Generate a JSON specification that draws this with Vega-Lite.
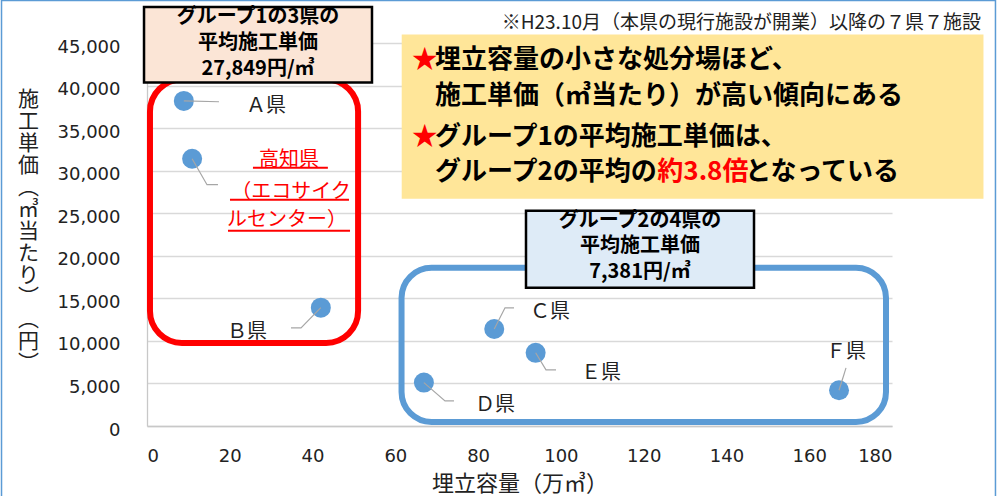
{
  "$schema": "https://vega.github.io/schema/vega-lite/v6.json",
  "width": 745,
  "height": 383,
  "autosize": {"type": "none"},
  "padding": {"left": 147, "top": 43, "right": 114, "bottom": 70},
  "background": "white",
  "config": {"view": {"stroke": null}, "font": "Noto Sans CJK JP"},
  "datasets": {
    "frame": [{"x": -35.15, "x2": 205.0, "y": 50000, "y2": -8706}],
    "points": [
      {"name": "A県", "x": 8.9, "y": 38200},
      {"name": "高知県", "x": 10.9, "y": 31400},
      {"name": "B県", "x": 42.0, "y": 13900},
      {"name": "C県", "x": 83.9, "y": 11400},
      {"name": "D県", "x": 66.9, "y": 5100},
      {"name": "E県", "x": 93.9, "y": 8600},
      {"name": "F県", "x": 167.2, "y": 4200}
    ],
    "leaders": [
      {"id": "A", "ord": 0, "x": 8.9, "y": 38200},
      {"id": "A", "ord": 1, "x": 17.4, "y": 38100},
      {"id": "K", "ord": 0, "x": 10.9, "y": 31400},
      {"id": "K", "ord": 1, "x": 14.5, "y": 28354},
      {"id": "K", "ord": 2, "x": 17.15, "y": 28354},
      {"id": "B", "ord": 0, "x": 42.0, "y": 13900},
      {"id": "B", "ord": 1, "x": 37.21, "y": 11530},
      {"id": "B", "ord": 2, "x": 34.79, "y": 11530},
      {"id": "C", "ord": 0, "x": 83.9, "y": 11400},
      {"id": "C", "ord": 1, "x": 86.5, "y": 13883},
      {"id": "C", "ord": 2, "x": 88.67, "y": 13883},
      {"id": "E", "ord": 0, "x": 93.9, "y": 8600},
      {"id": "E", "ord": 1, "x": 96.4, "y": 6588},
      {"id": "E", "ord": 2, "x": 98.82, "y": 6588},
      {"id": "D", "ord": 0, "x": 66.9, "y": 5100},
      {"id": "D", "ord": 1, "x": 72.0, "y": 2941},
      {"id": "D", "ord": 2, "x": 74.17, "y": 2941},
      {"id": "F", "ord": 0, "x": 167.2, "y": 4200},
      {"id": "F", "ord": 1, "x": 168.89, "y": 6824}
    ],
    "labels": [
      {"t": "Ａ県", "x": 28.75, "y": 37650},
      {"t": "Ｂ県", "x": 24.16, "y": 11095},
      {"t": "Ｃ県", "x": 97.37, "y": 13447},
      {"t": "Ｄ県", "x": 84.08, "y": 2471},
      {"t": "Ｅ県", "x": 109.7, "y": 6235},
      {"t": "Ｆ県", "x": 168.9, "y": 8741}
    ],
    "kochi": [
      {"t": "高知県", "x": 34.31, "y": 31295},
      {"t": "（エコサイク", "x": 34.79, "y": 27530},
      {"t": "ルセンター）", "x": 33.83, "y": 24236}
    ],
    "underlines": [
      {"x": 25.6, "x2": 43.7, "y": 30354},
      {"x": 20.05, "x2": 48.8, "y": 26589},
      {"x": 19.57, "x2": 49.05, "y": 22942}
    ],
    "redGroup": [{"x": 0.72, "x2": 51.0, "y": 9765, "y2": 40700}],
    "blueGroup": [{"x": 61.5, "x2": 178.55, "y": 470, "y2": 18590}],
    "box1": [{"x": -0.72, "x2": 54.36, "y": 40355, "y2": 49236}],
    "box2": [{"x": 91.57, "x2": 146.66, "y": 16235, "y2": 25295}],
    "box1Text": [
      {"t": "グループ1の3県の", "x": 26.82, "y": 48001},
      {"t": "平均施工単価", "x": 26.82, "y": 44942},
      {"t": "27,849円/㎥", "x": 26.82, "y": 42001}
    ],
    "box2Text": [
      {"t": "グループ2の4県の", "x": 119.11, "y": 24036},
      {"t": "平均施工単価", "x": 119.11, "y": 21095},
      {"t": "7,381円/㎥", "x": 119.11, "y": 18036}
    ],
    "yellow": [{"x": 61.54, "x2": 202.1, "y": 26707, "y2": 46001}],
    "yellowBlack": [
      {"t": "埋立容量の小さな処分場ほど、", "x": 69.58, "y": 43060},
      {"t": "施工単価（㎥当たり）が高い傾向にある", "x": 69.58, "y": 38825},
      {"t": "グループ1の平均施工単価は、", "x": 69.58, "y": 34001},
      {"t": "グループ2の平均の", "x": 69.58, "y": 29883},
      {"t": "となっている", "x": 144.53, "y": 29883}
    ],
    "yellowRed": [
      {"t": "★", "x": 63.95, "y": 43060},
      {"t": "★", "x": 63.95, "y": 34001},
      {"t": "約3.8倍", "x": 123.3, "y": 29883}
    ],
    "note": [{"t": "※H23.10月（本県の現行施設が開業）以降の７県７施設", "x": 201.5, "y": 47295}]
  },
  "encoding": {
    "x": {
      "field": "x",
      "type": "quantitative",
      "scale": {"domain": [0, 180], "nice": false, "zero": false},
      "axis": {
        "values": [0, 20, 40, 60, 80, 100, 120, 140, 160, 180],
        "format": "d",
        "grid": false,
        "domain": true,
        "domainColor": "#C8C8C8",
        "domainWidth": 1.3,
        "ticks": false,
        "tickSize": 0,
        "labelFont": "DejaVu Sans",
        "labelFontSize": 18,
        "labelColor": "#222222",
        "labelBaseline": "middle",
        "labelPadding": 30,
        "title": "埋立容量（万㎥）",
        "titleFont": "Noto Sans CJK JP",
        "titleFontSize": 22,
        "titleFontWeight": "normal",
        "titleColor": "#222222",
        "titleY": 57,
        "titleBaseline": "middle"
      }
    },
    "y": {
      "field": "y",
      "type": "quantitative",
      "scale": {"domain": [0, 45000], "nice": false, "zero": false},
      "axis": {
        "values": [0, 5000, 10000, 15000, 20000, 25000, 30000, 35000, 40000, 45000],
        "format": ",.0f",
        "grid": true,
        "gridColor": "#D9D9D9",
        "gridWidth": 1.3,
        "domain": true,
        "domainColor": "#C8C8C8",
        "domainWidth": 1.3,
        "ticks": false,
        "tickSize": 0,
        "labelFont": "DejaVu Sans",
        "labelFontSize": 18,
        "labelColor": "#222222",
        "labelPadding": 27,
        "labelOffset": 4,
        "title": ["施", "工", "単", "価", "︵", "㎥", "当", "た", "り", "︶", "︵", "円", "︶"],
        "titleFont": "Noto Sans CJK JP",
        "titleFontSize": 21,
        "titleFontWeight": "normal",
        "titleColor": "#222222",
        "titleAngle": 0,
        "titleX": -119,
        "titleY": 56,
        "titleAlign": "center",
        "titleBaseline": "middle",
        "titleLineHeight": 22
      }
    }
  },
  "layer": [
    {
      "data": {"name": "frame"},
      "mark": {"type": "rect", "fill": "transparent", "stroke": "#5B9BD5", "strokeWidth": 1.5},
      "encoding": {"x2": {"field": "x2"}, "y2": {"field": "y2"}}
    },
    {
      "data": {"name": "points"},
      "mark": {"type": "circle", "size": 400, "color": "#5B9BD5", "opacity": 1}
    },
    {
      "data": {"name": "leaders"},
      "mark": {"type": "line", "color": "#A6A6A6", "strokeWidth": 1.2},
      "encoding": {"detail": {"field": "id"}, "order": {"field": "ord", "type": "quantitative"}}
    },
    {
      "data": {"name": "labels"},
      "mark": {"type": "text", "font": "Noto Sans CJK JP", "fontSize": 20, "color": "#222222", "align": "center", "baseline": "middle"},
      "encoding": {"text": {"field": "t"}}
    },
    {
      "data": {"name": "kochi"},
      "mark": {"type": "text", "font": "Noto Sans CJK JP", "fontSize": 20, "color": "#FF0000", "align": "center", "baseline": "middle"},
      "encoding": {"text": {"field": "t"}}
    },
    {
      "data": {"name": "underlines"},
      "mark": {"type": "rule", "color": "#FF0000", "strokeWidth": 2},
      "encoding": {"x2": {"field": "x2"}}
    },
    {
      "data": {"name": "redGroup"},
      "mark": {"type": "rect", "fill": "transparent", "stroke": "#FF0000", "strokeWidth": 6, "cornerRadius": 32},
      "encoding": {"x2": {"field": "x2"}, "y2": {"field": "y2"}}
    },
    {
      "data": {"name": "blueGroup"},
      "mark": {"type": "rect", "fill": "transparent", "stroke": "#5B9BD5", "strokeWidth": 6, "cornerRadius": 30},
      "encoding": {"x2": {"field": "x2"}, "y2": {"field": "y2"}}
    },
    {
      "data": {"name": "box1"},
      "mark": {"type": "rect", "fill": "#FBE5D6", "stroke": "#000000", "strokeWidth": 2.5},
      "encoding": {"x2": {"field": "x2"}, "y2": {"field": "y2"}}
    },
    {
      "data": {"name": "box2"},
      "mark": {"type": "rect", "fill": "#DEEBF7", "stroke": "#000000", "strokeWidth": 2.5},
      "encoding": {"x2": {"field": "x2"}, "y2": {"field": "y2"}}
    },
    {
      "data": {"name": "box1Text"},
      "mark": {"type": "text", "font": "Noto Sans CJK JP", "fontSize": 20, "fontWeight": "bold", "color": "#000000", "align": "center", "baseline": "middle"},
      "encoding": {"text": {"field": "t"}}
    },
    {
      "data": {"name": "box2Text"},
      "mark": {"type": "text", "font": "Noto Sans CJK JP", "fontSize": 20, "fontWeight": "bold", "color": "#000000", "align": "center", "baseline": "middle"},
      "encoding": {"text": {"field": "t"}}
    },
    {
      "data": {"name": "yellow"},
      "mark": {"type": "rect", "fill": "#FFE699"},
      "encoding": {"x2": {"field": "x2"}, "y2": {"field": "y2"}}
    },
    {
      "data": {"name": "yellowBlack"},
      "mark": {"type": "text", "font": "Noto Sans CJK JP", "fontSize": 26, "fontWeight": "bold", "color": "#000000", "align": "left", "baseline": "middle"},
      "encoding": {"text": {"field": "t"}}
    },
    {
      "data": {"name": "yellowRed"},
      "mark": {"type": "text", "font": "Noto Sans CJK JP", "fontSize": 26, "fontWeight": "bold", "color": "#FF0000", "align": "left", "baseline": "middle"},
      "encoding": {"text": {"field": "t"}}
    },
    {
      "data": {"name": "note"},
      "mark": {"type": "text", "font": "Noto Sans CJK JP", "fontSize": 19, "color": "#222222", "align": "right", "baseline": "middle"},
      "encoding": {"text": {"field": "t"}}
    }
  ]
}
